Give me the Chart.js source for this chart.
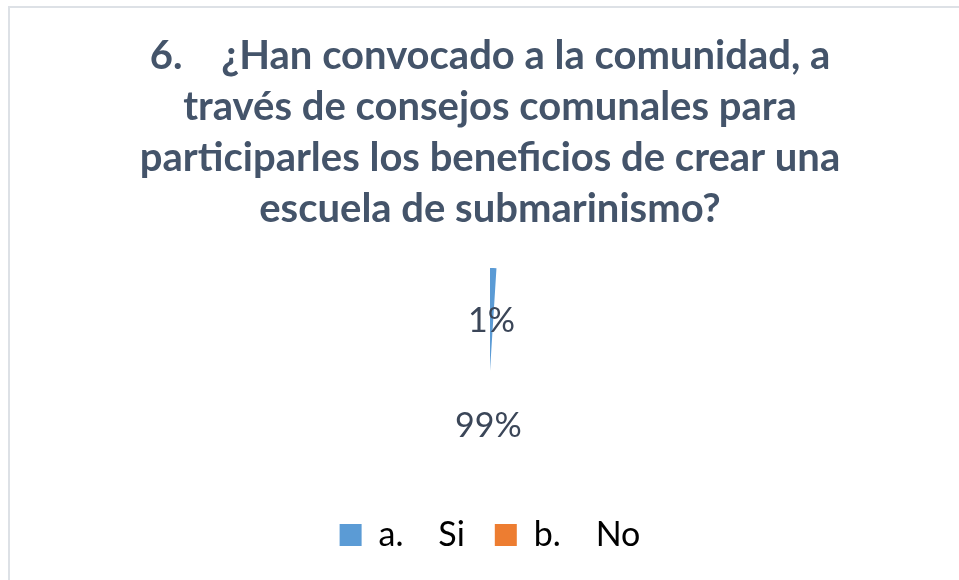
<!DOCTYPE html>
<html>
<head>
<meta charset="utf-8">
<script src="https://cdn.jsdelivr.net/npm/chart.js@4"></script>
<style>
  html, body { margin: 0; padding: 0; background: #fff; overflow: hidden; }
  #frame {
    position: absolute; left: 8px; top: 6px; width: 962px; height: 600px;
    border-top: 2px solid #dde1e6; border-left: 2px solid #dde1e6;
    box-sizing: border-box;
  }
  #wrap { position: absolute; left: 0; top: 0; width: 960px; height: 574px; }
</style>
</head>
<body>
<div id="frame"><div id="wrap"><canvas id="c"></canvas></div></div>
<script>
const labels = ["a.    Si", "b.    No"];
const values = [1, 99];
const pctLabels = ["1%", "99%"];
const sliceColors = ["#5b9bd5", "rgba(255,255,255,0)"];
const legendColors = ["#5b9bd5", "#ed7d31"];
const titleLines = [
  "6.    ¿Han convocado a la comunidad, a",
  "través de consejos comunales para",
  "participarles los beneficios de crear una",
  "escuela de submarinismo?"
];

// where each % label sits, as fraction of radius from the centre
const labelPos = [0.49, 0.53];

const pctPlugin = {
  id: "pct",
  afterDatasetsDraw(chart) {
    const ctx = chart.ctx;
    const arcs = chart.getDatasetMeta(0).data;
    ctx.save();
    ctx.font = "34px Lato";
    ctx.fillStyle = "#3b4658";
    ctx.textAlign = "center";
    ctx.textBaseline = "middle";
    arcs.forEach((a, i) => {
      const mid = (a.startAngle + a.endAngle) / 2;
      const r = a.outerRadius * labelPos[i];
      ctx.fillText(pctLabels[i], a.x + Math.cos(mid) * r, a.y + Math.sin(mid) * r);
    });
    ctx.restore();
  }
};

new Chart(document.getElementById("c"), {
  type: "pie",
  data: {
    labels: labels,
    datasets: [{
      data: values,
      backgroundColor: sliceColors,
      borderWidth: 0
    }]
  },
  options: {
    responsive: true,
    maintainAspectRatio: false,
    animation: false,
    radius: "88%",
    layout: { padding: { top: 0, bottom: 20, left: 0, right: 0 } },
    plugins: {
      title: {
        display: true,
        text: titleLines,
        color: "#44546a",
        font: { family: "Lato", size: 40, weight: "bold", lineHeight: 1.275 },
        padding: { top: 23, bottom: 19 }
      },
      legend: {
        position: "bottom",
        labels: {
          boxWidth: 22,
          boxHeight: 22,
          padding: 30,
          color: "#3b4658",
          font: { family: "Lato", size: 34 },
          generateLabels(chart) {
            return labels.map((l, i) => ({
              text: l,
              fillStyle: legendColors[i],
              strokeStyle: legendColors[i],
              lineWidth: 0,
              index: i
            }));
          }
        }
      },
      tooltip: { enabled: false }
    }
  },
  plugins: [pctPlugin]
});
</script>
</body>
</html>
